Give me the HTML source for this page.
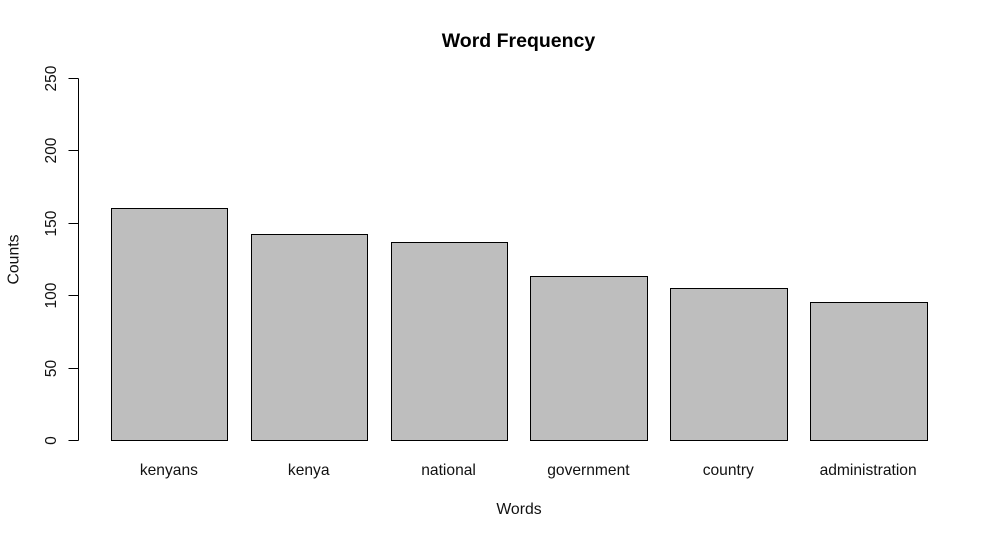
<!DOCTYPE html>
<html lang="en">
<head>
<meta charset="utf-8">
<title>Word Frequency</title>
<style>
html,body{margin:0;padding:0;background:#fff;}
svg{display:block;}
text{font-family:"Liberation Sans",Arial,sans-serif;fill:#111;}
</style>
</head>
<body>
<svg id="chart" width="1000" height="538" viewBox="0 0 1000 538" xmlns="http://www.w3.org/2000/svg">
<rect x="0" y="0" width="1000" height="538" fill="#ffffff"/>
<text x="518.5" y="47" text-anchor="middle" font-size="19.5" font-weight="bold" style="fill:#000">Word Frequency</text>
<text x="519" y="514" text-anchor="middle" font-size="15.8">Words</text>
<text transform="translate(18.5,259.5) rotate(-90)" text-anchor="middle" font-size="15.8">Counts</text>
<g id="y-axis"></g>
<g id="bars"></g>
<g id="x-labels"></g>
</svg>
<script>
const categories = ["kenyans", "kenya", "national", "government", "country", "administration"];
const counts = [160, 142, 137, 113, 105, 95];
const yTicks = [0, 50, 100, 150, 200, 250];

const SVG_NS = "http://www.w3.org/2000/svg";
const yBase = 440.5, yTop = 78.5, yMax = 250;
const firstBarLeft = 111.4, barStep = 139.85, barWidth = 116.55;
const axisX = 78.5;

function yScale(v) { return yBase - (v / yMax) * (yBase - yTop); }
function xBand(i) { return firstBarLeft + i * barStep; }
function snap(p) { return Math.floor(p) + 0.5; }
function make(tag, attrs, parent) {
  const el = document.createElementNS(SVG_NS, tag);
  for (const k in attrs) el.setAttribute(k, attrs[k]);
  parent.appendChild(el);
  return el;
}

const yAxisGroup = document.getElementById("y-axis");
const barsGroup = document.getElementById("bars");
const labelsGroup = document.getElementById("x-labels");

const axisLine = make("line", {x1: axisX, x2: axisX, y1: yScale(yTicks[0]), y2: yScale(yTicks[yTicks.length - 1]), stroke: "#000", "stroke-width": 1}, yAxisGroup);



yTicks.forEach(function (t) {
  const y = Math.round(yScale(t) - 0.5) + 0.5;
  const tick = make("line", {x1: axisX - 10, x2: axisX, y1: y, y2: y, stroke: "#000", "stroke-width": 1}, yAxisGroup);
  
  
  const label = make("text", {transform: "translate(56," + y + ") rotate(-90)", "text-anchor": "middle", "font-size": 15.5}, yAxisGroup);
  label.textContent = t;
  
  
});

categories.forEach(function (c, i) {
  const left = snap(xBand(i));
  const right = snap(xBand(i) + barWidth);
  const top = Math.round(yScale(counts[i]) - 0.5) + 0.5;
  const bar = make("rect", {x: left, y: top, width: right - left, height: yScale(0) - top, fill: "#bebebe", stroke: "#000", "stroke-width": 1}, barsGroup);
  
  
  const label = make("text", {x: xBand(i) + barWidth / 2 - 0.8, y: 475, "text-anchor": "middle", "font-size": 15.6}, labelsGroup);
  label.textContent = c;
  
  
});
</script>
</body>
</html>
